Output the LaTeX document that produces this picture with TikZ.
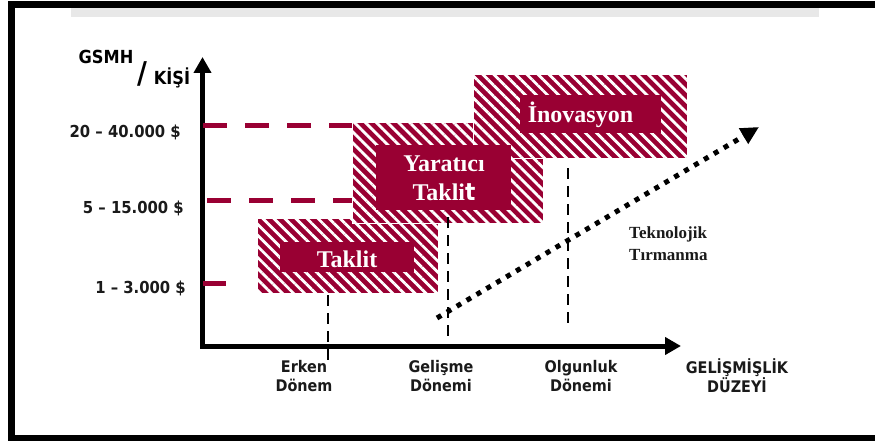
\documentclass[tikz,border=0pt]{standalone}
\usepackage{fontspec}
\setmainfont{Liberation Serif}
\newfontfamily\labelfont{DejaVu Sans Condensed}
\usetikzlibrary{arrows.meta,patterns.meta}
\definecolor{crimson}{RGB}{153,0,51}
\definecolor{stripgrey}{RGB}{232,232,232}
\definecolor{inktext}{RGB}{26,26,26}

\begin{document}
\begin{tikzpicture}[x=1pt,y=-1pt,
  hatchbox/.style={rectangle, inner sep=0pt, draw=white, line width=0.8pt,
    fill=crimson,
    postaction={pattern={Lines[angle=-45,distance=7.8pt,line width=2.8pt]},
                pattern color=white}},
  stagebox/.style={rectangle, inner sep=0pt, fill=crimson},
  stagetext/.style={inner sep=0pt, text=white, align=center,
    font=\bfseries\fontsize{24}{29}\selectfont},
  axisline/.style={line width=5pt, -{Triangle[length=16pt,width=17pt]}},
  leveldash/.style={crimson, line width=5pt, dash pattern=on 24pt off 18pt},
  guide/.style={black, line width=2pt, dash pattern=on 11pt off 7pt},
  climb/.style={line width=5pt, dash pattern=on 5pt off 6.5pt,
    -{Triangle[length=18pt,width=17pt]}},
  ylabel/.style={anchor=east, inner sep=0pt, text=inktext,
    font=\labelfont\bfseries\fontsize{16.5}{19}\selectfont},
  xlabel/.style={align=center, inner sep=0pt, text=inktext,
    font=\labelfont\bfseries\fontsize{16}{19}\selectfont}]

\useasboundingbox (0,0) rectangle (875,441);

% page frame and header strip
\fill[black] (8,1) rectangle (875,8);
\fill[black] (8,1) rectangle (15,441);
\fill[black] (8,435) rectangle (875,441);
\fill[stripgrey] (71,8) rectangle (819,17);

% stage boxes (hatched frames, then solid captions)
\node[hatchbox, minimum width=181pt, minimum height=75pt] (taklitH) at (347.5,255.5) {};
\node[hatchbox, minimum width=191pt, minimum height=101pt] (yaraticiH) at (447.5,172.5) {};
\node[hatchbox, minimum width=214pt, minimum height=84pt] (inovH) at (580,116) {};

\node[stagebox, minimum width=134pt, minimum height=30pt] (taklitB) at (347,257) {};
\node[stagebox, minimum width=135pt, minimum height=65pt] (yaraticiB) at (443.5,177.5) {};
\node[stagebox, minimum width=141pt, minimum height=38pt] (inovB) at (590.5,114) {};

\node[stagetext] (taklit) at (347,259) {Taklit};
\node[stagetext] (yaratici) at (444,178) {Yaratıcı\\Takli{\labelfont t}};
\node[stagetext] (inov) at (580.5,115) {İnovasyon};

% axes
\coordinate (origin) at (202.5,346);
\coordinate (ytop) at (202.5,57);
\coordinate (xleft) at (200,346);
\coordinate (xend) at (681,346);
\draw[axisline] (origin) -- (ytop);
\draw[axisline] (xleft) -- (xend);

% income levels
\coordinate (t20) at (203,126);
\coordinate (t5) at (203,200);
\coordinate (t1) at (203,283);
\coordinate (t1e) at (226,283);
\draw[leveldash] (t20) -- (t20 -| yaraticiH.west);
\draw[leveldash, dash phase=38pt] (t5) -- (t5 -| yaraticiH.west);
\draw[crimson, line width=5pt] (t1) -- (t1e);

% stage guides
\coordinate (g1a) at (328,295);  \coordinate (g1b) at (328,362);
\coordinate (g2a) at (448,217);  \coordinate (g2b) at (448,337);
\coordinate (g3a) at (568,168);  \coordinate (g3b) at (568,328);
\draw[guide] (g1a) -- (g1b);
\draw[guide] (g2a) -- (g2b);
\draw[guide] (g3a) -- (g3b);

% technological climb
\coordinate (c0) at (437,318);
\coordinate (c1) at (759,127);
\draw[climb] (c0) -- (c1);
\node[anchor=west, align=left, inner sep=0pt, text=inktext,
  font=\bfseries\fontsize{17}{22}\selectfont] (climbtxt) at (629,244)
  {Teknolojik\\Tırmanma};

% axis titles
\node[inner sep=0pt, text=black, font=\labelfont\bfseries\fontsize{18}{20}\selectfont]
  (gsmh) at (106,57) {GSMH};
\node[inner sep=0pt, text=black, font=\labelfont\bfseries\fontsize{30}{32}\selectfont]
  (slash) at (142,74) {/};
\node[inner sep=0pt, text=black, font=\labelfont\bfseries\fontsize{18}{20}\selectfont]
  (kisi) at (172,78) {KİŞİ};

\node[ylabel] (y20) at (181,132) {20 – 40.000 \$};
\node[ylabel] (y5) at (184,208) {5 – 15.000 \$};
\node[ylabel] (y1) at (186,288) {1 – 3.000 \$};

\node[xlabel] (erken) at (304,376) {Erken\\Dönem};
\node[xlabel] (gelisme) at (441,376) {Gelişme\\Dönemi};
\node[xlabel] (olgun) at (581,376) {Olgunluk\\Dönemi};
\node[xlabel] (duzey) at (737,376) {GELİŞMİŞLİK\\DÜZEYİ};

\end{tikzpicture}
\end{document}
